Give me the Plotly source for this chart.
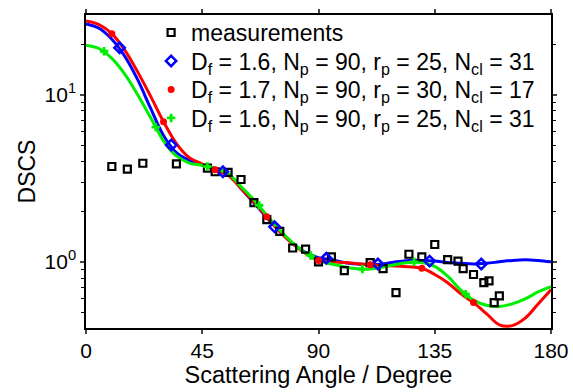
import plotly.graph_objects as go

# ---- data ----
meas_angle = [10, 16, 22, 35, 47, 50, 55, 60, 65, 70, 75, 80, 85, 90, 95, 100, 110, 115,
              120, 125, 130, 135, 140, 144, 146, 150, 154, 156, 158, 160]
meas_dscs = [3.72, 3.59, 3.89, 3.86, 3.64, 3.46, 3.43, 3.11, 2.26, 1.79, 1.52, 1.21, 1.19, 1.0,
             1.07, 0.885, 0.99, 0.91, 0.654, 1.11, 1.07, 1.27, 1.03, 1.01, 0.91, 0.84, 0.75,
             0.77, 0.57, 0.625]

curve_angle = [0, 5, 10, 15, 20, 25, 30, 35, 40, 45, 50, 55, 60, 65, 70, 75, 80, 85, 90,
               95, 100, 105, 110, 115, 120, 125, 130, 135, 140, 145, 150, 155, 160, 165,
               170, 175, 180]
blue_dscs = [26.5, 25.0, 21.5, 17.0, 12.3, 8.3, 5.7, 4.5, 4.05, 3.8, 3.62, 3.35, 2.75, 2.25,
             1.84, 1.52, 1.29, 1.14, 1.06, 1.03, 0.99, 0.97, 0.96, 0.97, 1.0, 1.02, 1.02,
             1.01, 0.99, 0.98, 0.97, 0.98, 1.0, 1.02, 1.03, 1.02, 1.0]
red_dscs = [27.6, 26.3, 23.2, 18.5, 13.7, 9.8, 6.9, 5.1, 4.2, 3.85, 3.55, 3.3, 2.75, 2.28,
            1.86, 1.52, 1.28, 1.12, 1.02, 1.0, 0.99, 0.975, 0.96, 0.95, 0.945, 0.935, 0.915,
            0.84, 0.75, 0.645, 0.57, 0.49, 0.42, 0.415, 0.46, 0.56, 0.68]
green_dscs = [19.8, 18.9, 16.5, 13.3, 10.0, 7.3, 5.3, 4.3, 3.9, 3.78, 3.62, 3.38, 2.82, 2.35,
              1.9, 1.55, 1.3, 1.13, 1.02, 0.97, 0.935, 0.91, 0.905, 0.93, 0.965, 0.99, 0.99,
              0.94, 0.82, 0.68, 0.59, 0.55, 0.54, 0.56, 0.6, 0.66, 0.71]

blue_mark_angle = [13, 33, 53, 73, 93, 113, 133, 153]
blue_mark_dscs = [19.1, 5.0, 3.46, 1.62, 1.05, 0.97, 1.01, 0.97]
red_mark_angle = [10, 30, 50, 70, 90, 110, 130, 150]
red_mark_dscs = [23.2, 6.9, 3.55, 1.86, 1.02, 0.96, 0.915, 0.57]
green_mark_angle = [7, 27, 47, 67, 87, 107, 127, 147]
green_mark_dscs = [18.2, 6.4, 3.72, 2.18, 1.09, 0.905, 1.0, 0.64]

labels = [
    "measurements",
    "D<sub>f</sub> = 1.6, N<sub>p</sub> = 90, r<sub>p</sub> = 25, N<sub>cl</sub> = 31",
    "D<sub>f</sub> = 1.7, N<sub>p</sub> = 90, r<sub>p</sub> = 30, N<sub>cl</sub> = 17",
    "D<sub>f</sub> = 1.6, N<sub>p</sub> = 90, r<sub>p</sub> = 25, N<sub>cl</sub> = 31",
]
x_ticks = [0, 45, 90, 135, 180]
y_ticks = [1, 10]
y_ticktext = ["10<sup>0</sup>", "10<sup>1</sup>"]
y_minor = [0.5, 0.6, 0.7, 0.8, 0.9, 2, 3, 4, 5, 6, 7, 8, 9, 20]

BLUE = "#0000ff"
RED = "#ff0000"
GREEN = "#00ee00"

fig = go.Figure()
# curves
for ys, col in [(blue_dscs, BLUE), (red_dscs, RED), (green_dscs, GREEN)]:
    fig.add_trace(go.Scatter(x=curve_angle, y=ys, mode="lines",
                             line=dict(color=col, width=3, shape="spline", smoothing=1.0),
                             showlegend=False, hoverinfo="skip"))

fig.add_trace(go.Scatter(x=meas_angle, y=meas_dscs, mode="markers", name=labels[0],
                         legend="legend",
                         marker=dict(symbol="square-open", size=7, color="black",
                                     line=dict(width=2.2, color="black"))))
fig.add_trace(go.Scatter(x=blue_mark_angle, y=blue_mark_dscs, mode="markers", name=labels[1],
                         legend="legend2",
                         marker=dict(symbol="diamond-open", size=8, color=BLUE,
                                     line=dict(width=2.5, color=BLUE))))
fig.add_trace(go.Scatter(x=red_mark_angle, y=red_mark_dscs, mode="markers", name=labels[2],
                         legend="legend3",
                         marker=dict(symbol="circle", size=7, color=RED)))
fig.add_trace(go.Scatter(x=green_mark_angle, y=green_mark_dscs, mode="markers", name=labels[3],
                         legend="legend4",
                         marker=dict(symbol="cross", size=7, color=GREEN)))

FONT = "Liberation Sans, Arial, sans-serif"


def leg(yc):
    return dict(x=0.14, y=yc, xanchor="left", yanchor="middle",
                bgcolor="rgba(0,0,0,0)", borderwidth=0, font=dict(size=23))


fig.update_layout(
    width=573, height=392,
    margin=dict(l=86, r=22, t=11, b=64),
    paper_bgcolor="white", plot_bgcolor="white",
    font=dict(family=FONT, size=22, color="black"),
    showlegend=True,
    legend=leg(0.944),
    legend2=leg(0.853),
    legend3=leg(0.762),
    legend4=leg(0.671),
    xaxis=dict(range=[0, 180], tickvals=x_ticks, ticks="outside", ticklen=4, tickwidth=1.5,
               showline=True, linecolor="black", linewidth=1.5, mirror="ticks",
               showgrid=False, zeroline=False, automargin=False,
               ticklabelstandoff=-1,
               title=dict(text="Scattering Angle / Degree", standoff=6, font=dict(size=23.5)),
               tickfont=dict(size=21)),
    yaxis=dict(type="log", range=[-0.396, 1.477], tickvals=y_ticks, ticktext=y_ticktext,
               ticks="outside", ticklen=4, tickwidth=1.5,
               showline=True, linecolor="black", linewidth=1.5, mirror="ticks",
               showgrid=False, zeroline=False, automargin=False,
               minor=dict(tickvals=y_minor, ticks="outside", ticklen=3, tickwidth=1.2,
                          tickcolor="black", showgrid=False),
               title=dict(text="DSCS", standoff=2, font=dict(size=23)),
               tickfont=dict(size=21)),
)

fig.write_html("out.html")
